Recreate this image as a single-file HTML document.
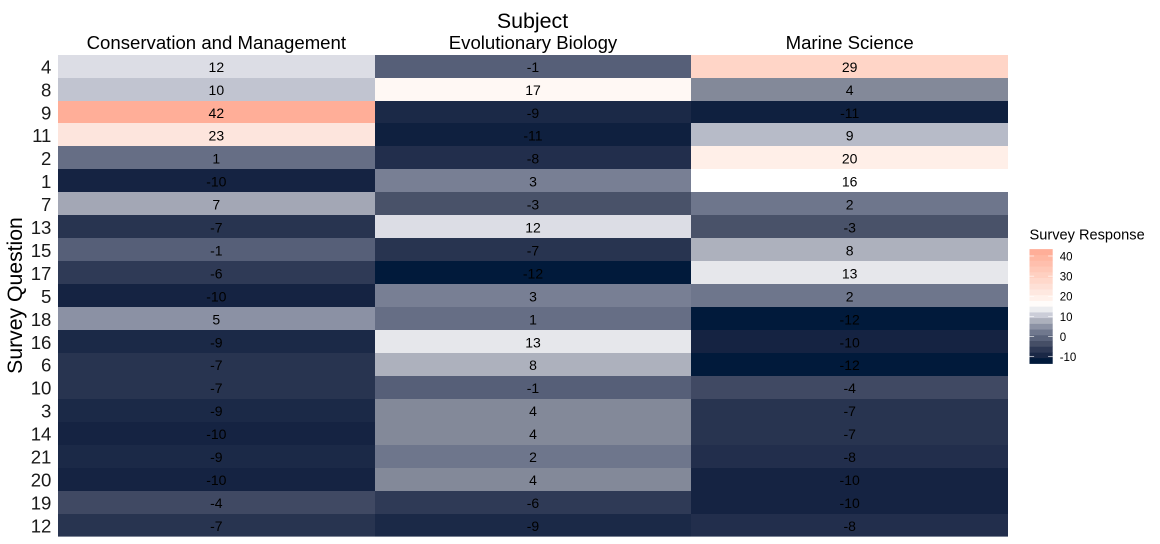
<!DOCTYPE html>
<html lang="en">
<head>
<meta charset="utf-8">
<title>Survey Response Heatmap</title>
<style>
html,body{margin:0;padding:0;background:#fff;width:1160px;height:544px;overflow:hidden}
svg{display:block;font-family:"Liberation Sans",Arial,sans-serif}
</style>
</head>
<body>
<svg id="chart" width="1160" height="544" viewBox="0 0 1160 544" xmlns="http://www.w3.org/2000/svg">
  <text x="532.5" y="28" font-size="21.4" text-anchor="middle" fill="#000">Subject</text>
  <text transform="translate(22,295.5) rotate(-90)" font-size="21.2" text-anchor="middle" fill="#000">Survey Question</text>
  <g id="cells"></g>
  <g id="cell-labels"></g>
  <g id="x-labels"></g>
  <g id="y-labels"></g>
  <g id="legend">
    <text x="1029.5" y="239.7" font-size="14.6" fill="#000">Survey Response</text>
    <g id="legend-bar"></g>
    <g id="legend-ticks"></g>
    <g id="legend-labels"></g>
  </g>
</svg>
<script>
const subjects = ['Conservation and Management', 'Evolutionary Biology', 'Marine Science'];
const questions = ['4','8','9','11','2','1','7','13','15','17','5','18','16','6','10','3','14','21','20','19','12'];
const conservationValues = [12,10,42,23,1,-10,7,-7,-1,-6,-10,5,-9,-7,-7,-9,-10,-9,-10,-4,-7];
const evolutionaryValues = [-1,17,-9,-11,-8,3,-3,12,-7,-12,3,1,13,8,-1,4,4,2,4,-6,-9];
const marineValues = [29,4,-11,9,20,16,2,-3,8,13,2,-12,-10,-12,-4,-7,-7,-8,-10,-10,-8];
const legendTicks = [-10,0,10,20,30,40];
const colorStopValues = [-12,-11,-10,-9,-8,-7,-6,-4,-3,-1,1,2,3,4,5,7,8,9,10,12,13,16,17,20,23,29,42];
const colorStopHex = ['#011a3b','#0f203f','#152342','#1b2947','#222e4c','#283450','#2f3a56','#404963','#495269','#565f78','#666e85','#6e768c','#787f94','#838999','#8b91a4','#a3a7b5','#adb1bd','#b7bbc8','#c1c4d0','#dcdde5','#e6e7eb','#ffffff','#fff8f4','#ffefe8','#fde5dd','#ffd5c7','#ffae98'];

const NS = 'http://www.w3.org/2000/svg';
const seriesValues = [conservationValues, evolutionaryValues, marineValues];
const plotLeft = 58, plotRight = 1008, plotTop = 55.14, plotBottom = 536.6;
const colWidth = (plotRight - plotLeft) / subjects.length;
const rowHeight = 22.945;
const xScale = i => plotLeft + i * colWidth;
const yScale = i => plotTop + i * rowHeight;
const rowEdge = i => i >= questions.length ? plotBottom : Math.floor(yScale(i));

const legendX = 1029.5, legendW = 23.2;
const legendY = v => 356.7 - (v + 10) * 2.014;

function hexToRgb(h) {
  return [1, 3, 5].map(p => parseInt(h.slice(p, p + 2), 16));
}
function colorFor(v) {
  const s = colorStopValues;
  if (v <= s[0]) return colorStopHex[0];
  if (v >= s[s.length - 1]) return colorStopHex[s.length - 1];
  for (let i = 1; i < s.length; i++) {
    if (v <= s[i]) {
      const t = (v - s[i - 1]) / (s[i] - s[i - 1]);
      const a = hexToRgb(colorStopHex[i - 1]), b = hexToRgb(colorStopHex[i]);
      const c = a.map((x, k) => Math.round(x + (b[k] - x) * t));
      return 'rgb(' + c.join(',') + ')';
    }
  }
}
function make(tag, attrs, parent, content) {
  const el = document.createElementNS(NS, tag);
  for (const k in attrs) el.setAttribute(k, attrs[k]);
  if (content !== undefined) el.textContent = content;
  parent.appendChild(el);
  return el;
}

const cellsG = document.getElementById('cells');
const cellLabelsG = document.getElementById('cell-labels');
const xLabelsG = document.getElementById('x-labels');
const yLabelsG = document.getElementById('y-labels');

subjects.forEach((subject, c) => {
  const x0 = Math.round(xScale(c)), x1 = Math.round(xScale(c + 1));
  const label = make('text', {x: xScale(c) + colWidth / 2, y: 49, 'font-size': 18.6, 'text-anchor': 'middle', fill: '#000'}, xLabelsG, subject);
  
  
  seriesValues[c].forEach((value, r) => {
    const y0 = rowEdge(r), y1 = rowEdge(r + 1);
    const rect = make('rect', {x: x0, y: y0, width: x1 - x0, height: y1 - y0, fill: colorFor(value)}, cellsG);
    
    
    const text = make('text', {x: xScale(c) + colWidth / 2, y: yScale(r) + rowHeight / 2 + 5.3, 'font-size': 14, 'text-anchor': 'middle', fill: '#000'}, cellLabelsG, String(value));
    
    
  });
});

questions.forEach((q, r) => {
  const t = make('text', {x: 51.4, y: yScale(r) + rowHeight / 2 + 6.8, 'font-size': 18.6, 'text-anchor': 'end', fill: '#1a1a1a'}, yLabelsG, q);
  
  
});

const allValues = seriesValues.flat();
const minV = Math.min(...allValues), maxV = Math.max(...allValues);
const nbin = 20;
const binStep = (maxV - minV) / (nbin - 1);
const legendBarG = document.getElementById('legend-bar');
for (let i = 0; i < nbin; i++) {
  const v = minV + i * binStep;
  const yTop = legendY(v + binStep / 2), yBot = legendY(v - binStep / 2);
  const rect = make('rect', {x: legendX, y: yTop, width: legendW, height: yBot - yTop + 0.3, fill: colorFor(v)}, legendBarG);
  
  
}
const legendTicksG = document.getElementById('legend-ticks');
const legendLabelsG = document.getElementById('legend-labels');
legendTicks.forEach(v => {
  const y = legendY(v);
  const left = make('line', {x1: legendX, x2: legendX + 4.6, y1: y, y2: y, stroke: '#fff', 'stroke-width': 0.6}, legendTicksG);
  
  
  const right = make('line', {x1: legendX + legendW - 4.6, x2: legendX + legendW, y1: y, y2: y, stroke: '#fff', 'stroke-width': 0.6}, legendTicksG);
  
  
  const label = make('text', {x: 1059.7, y: y + 4.4, 'font-size': 11.5, fill: '#000'}, legendLabelsG, String(v));
  
  
});
</script>
</body>
</html>
